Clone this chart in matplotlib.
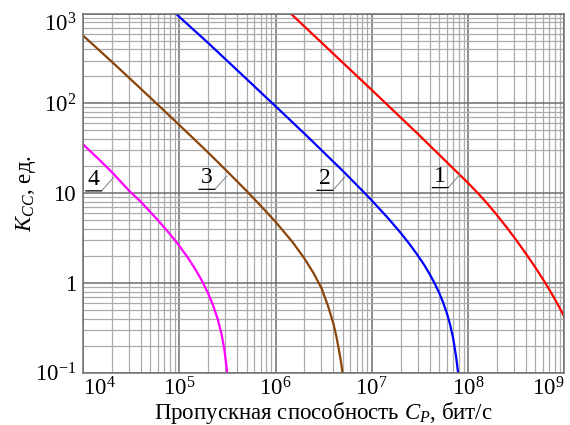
import matplotlib
matplotlib.use("Agg")
import matplotlib.pyplot as plt
from matplotlib.ticker import FixedLocator, LogLocator, NullFormatter
from matplotlib.transforms import offset_copy

plt.rcParams['font.family'] = ['Liberation Serif', 'DejaVu Serif']
plt.rcParams['mathtext.fontset'] = 'custom'
plt.rcParams['mathtext.rm'] = 'Liberation Serif'
plt.rcParams['mathtext.it'] = 'Liberation Serif:italic'

# ---- data ----
C1 = [1.44e6, 3e6, 1e7, 3e7, 1e8, 1.3e8, 1.585e8, 2e8, 2.51e8, 3.16e8, 3.98e8, 5e8,
      6.31e8, 7.08e8, 7.94e8, 8.91e8, 1e9]
K1 = [1000, 476, 141, 45.9, 13.0, 9.7, 7.66, 5.69, 4.18, 3.01, 2.13, 1.49,
      1.01, 0.824, 0.665, 0.532, 0.42]

C2 = [9.2e4, 2e5, 5e5, 1e6, 2e6, 5e6, 7.5e6, 1e7, 1.5e7, 2e7, 2.5e7, 3e7, 3.5e7,
      4e7, 4.5e7, 5e7, 5.5e7, 6e7, 6.5e7, 7e7, 7.5e7, 7.88e7]
K2 = [1000, 470, 187, 93, 46, 17.7, 11.4, 8.3, 5.17, 3.6, 2.66, 2.03, 1.59,
      1.25, 0.99, 0.78, 0.61, 0.467, 0.346, 0.243, 0.153, 0.1]

C3 = [1e4, 2e4, 5e4, 1e5, 2e5, 3e5, 5e5, 7e5, 1e6, 1.5e6, 2e6, 2.5e6, 3e6, 3.5e6,
      4e6, 4.3e6, 4.6e6, 4.8e6, 4.96e6]
K3 = [570, 290, 116, 57.5, 28.3, 18.4, 10.6, 7.25, 4.8, 2.86, 1.87, 1.27, 0.877, 0.56,
      0.35, 0.25, 0.17, 0.13, 0.1]

C4 = [1e4, 1.5e4, 2e4, 3e4, 4e4, 6e4, 8e4, 1e5, 1.25e5, 1.5e5, 1.75e5, 2e5, 2.25e5,
      2.5e5, 2.75e5, 2.95e5, 3.15e5]
K4 = [35.0, 23.2, 17.1, 10.7, 8.0, 5.0, 3.5, 2.6, 1.86, 1.37, 1.02, 0.76, 0.56,
      0.40, 0.27, 0.178, 0.1]

series = [(C1, K1, '#ff0000'), (C2, K2, '#0000ff'), (C3, K3, '#8a4408'), (C4, K4, '#ff00ff')]

label_text = ['1', '2', '3', '4']
label_C = [8.3e7, 5.26e6, 3.13e5, 2.08e4]
label_K = [16.3, 15.2, 15.6, 15.0]

x_ticks = [1e4, 1e5, 1e6, 1e7, 1e8, 1e9]
x_ticklabels = [r'$10^{4}$', r'$10^{5}$', r'$10^{6}$', r'$10^{7}$', r'$10^{8}$', r'$10^{9}$']
y_ticks = [0.1, 1, 10, 100, 1000]
y_ticklabels = [r'$10^{-1}$', '1', '10', r'$10^{2}$', r'$10^{3}$']

# ---- figure ----
fig = plt.figure(figsize=(5.7, 4.25), dpi=100)
ax = fig.add_axes([0.1456, 0.123, 0.8444, 0.845])
ax.set_xscale('log')
ax.set_yscale('log')
ax.set_xlim(1e4, 1e9)
ax.set_ylim(0.1, 1000)

ax.xaxis.set_major_locator(FixedLocator(x_ticks))
ax.yaxis.set_major_locator(FixedLocator(y_ticks))
ax.xaxis.set_minor_locator(LogLocator(base=10, subs=range(2, 10), numticks=20))
ax.yaxis.set_minor_locator(LogLocator(base=10, subs=range(2, 10), numticks=20))
ax.xaxis.set_minor_formatter(NullFormatter())
ax.yaxis.set_minor_formatter(NullFormatter())
ax.set_xticklabels(x_ticklabels)
ax.set_yticklabels(y_ticklabels)
ax.tick_params(which='both', length=0)
ax.tick_params(axis='x', labelsize=16.5, pad=3)
ax.tick_params(axis='y', labelsize=16.5, pad=5)

xl = ax.get_xticklabels()
xl[0].set_horizontalalignment('left')
xl[-1].set_horizontalalignment('right')
yl = ax.get_yticklabels()
yl[-1].set_verticalalignment('top')

ax.grid(which='major', color='#6e6e6e', lw=1.1)
ax.grid(which='minor', color='#ababab', lw=0.9)
ax.set_axisbelow(True)
for s in ax.spines.values():
    s.set_color('#707070')
    s.set_linewidth(1.1)

for C, K, col in series:
    ax.plot(C, K, color=col, lw=1.6, solid_joinstyle='round', clip_on=True)

# curve number labels with underline and leader
lead_dx, lead_dy, under_len = -12, -13.5, 16
for txt, c, k in zip(label_text, label_C, label_K):
    t_end = offset_copy(ax.transData, fig=fig, x=lead_dx, y=lead_dy, units='dots')
    t_start = offset_copy(ax.transData, fig=fig, x=lead_dx - under_len, y=lead_dy, units='dots')
    t_txt = offset_copy(ax.transData, fig=fig, x=lead_dx - under_len / 2, y=lead_dy + 1, units='dots')
    ax.annotate('', xy=(c, k), xycoords='data', xytext=(c, k), textcoords=t_end,
                arrowprops=dict(arrowstyle='-', color='#808080', lw=0.7, shrinkA=0, shrinkB=0))
    ax.annotate('', xy=(c, k), xycoords=t_end, xytext=(c, k), textcoords=t_start,
                arrowprops=dict(arrowstyle='-', color='black', lw=0.9, shrinkA=0, shrinkB=0))
    ax.text(c, k, txt, transform=t_txt, ha='center', va='bottom', fontsize=17)

ax.set_xlabel(r'Пропускная способность $C_P$, бит/с', fontsize=16.5, labelpad=0)
ax.set_ylabel(r'$K_{CC}$, ед.', fontsize=16.5, labelpad=-2.5)

fig.savefig('out.png', dpi=100)
